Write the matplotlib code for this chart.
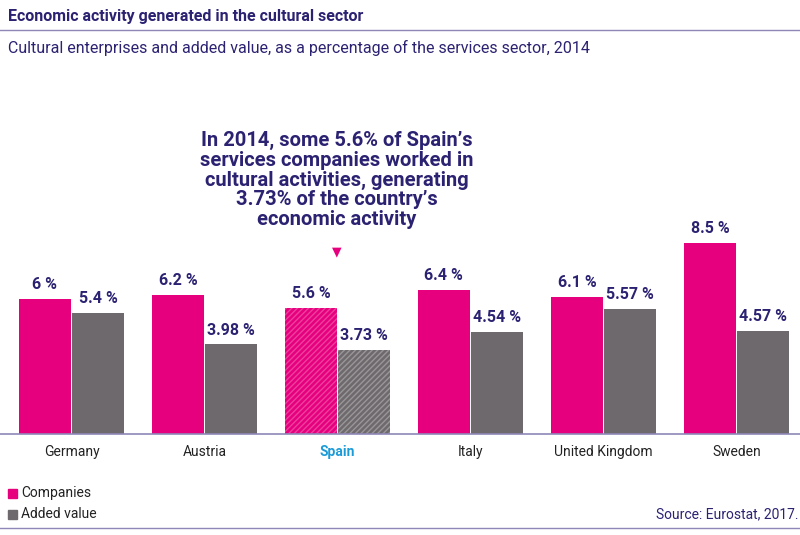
import matplotlib
matplotlib.use("Agg")
import matplotlib.pyplot as plt
import numpy as np

countries = ["Germany", "Austria", "Spain", "Italy", "United Kingdom", "Sweden"]
companies = [6.0, 6.2, 5.6, 6.4, 6.1, 8.5]
added_value = [5.4, 3.98, 3.73, 4.54, 5.57, 4.57]
comp_labels = ["6 %", "6.2 %", "5.6 %", "6.4 %", "6.1 %", "8.5 %"]
added_labels = ["5.4 %", "3.98 %", "3.73 %", "4.54 %", "5.57 %", "4.57 %"]

PINK = "#E6007E"
GRAY = "#6E696C"
NAVY = "#2B2272"
BLUE = "#1A9BD7"
LINE = "#8E88B8"

plt.rcParams['font.family'] = ['Roboto', 'DejaVu Sans']
fig = plt.figure(figsize=(8, 5.35), dpi=100)
W, H = 800, 535
ax = fig.add_axes([0, 1 - 434 / H, 1, (434 - 90) / H])
x = np.arange(len(countries))
w = 0.395
for i in x:
    hatch = '//////' if countries[i] == "Spain" else None
    ax.bar(i - 0.2, companies[i], w, color=PINK, hatch=hatch, edgecolor=(1, 1, 1, 0.25) if hatch else PINK, linewidth=0)
    ax.bar(i + 0.2, added_value[i], w, color=GRAY, hatch=hatch, edgecolor=(1, 1, 1, 0.3) if hatch else GRAY, linewidth=0)
    ax.text(i - 0.2, companies[i] + 0.3, comp_labels[i], ha='center', va='bottom', color=NAVY, fontsize=11.5, fontweight='bold')
    ax.text(i + 0.2, added_value[i] + 0.3, added_labels[i], ha='center', va='bottom', color=NAVY, fontsize=11.5, fontweight='bold')
ax.set_xlim(-71.5 / 133, (800 - 71.5) / 133)
ax.set_ylim(0, (434 - 90) / 22.5)
ax.set_xticks(x)
ax.set_xticklabels(countries, fontsize=10)
for lbl, c in zip(ax.get_xticklabels(), countries):
    if c == "Spain":
        lbl.set_color(BLUE); lbl.set_fontweight('bold')
    else:
        lbl.set_color('#222222')
ax.tick_params(axis='x', length=0, pad=8)
ax.set_yticks([])
for s in ['top', 'right', 'left']:
    ax.spines[s].set_visible(False)
ax.spines['bottom'].set_color(LINE)
ax.spines['bottom'].set_linewidth(1.2)

fig.text(8 / W, 1 - 16 / H, "Economic activity generated in the cultural sector", color=NAVY, fontsize=11.5, fontweight='bold', va='center')
fig.add_artist(plt.Line2D([0, 1], [1 - 30 / H] * 2, color=LINE, lw=1))
fig.text(8 / W, 1 - 48 / H, "Cultural enterprises and added value, as a percentage of the services sector, 2014", color=NAVY, fontsize=11.5, va='center')
fig.text(337 / W, 1 - 180 / H, "In 2014, some 5.6% of Spain’s\nservices companies worked in\ncultural activities, generating\n3.73% of the country’s\neconomic activity",
         ha='center', va='center', color=NAVY, fontsize=14.5, fontweight='bold', linespacing=1.05)
fig.text(337 / W, 1 - 252 / H, "▼", ha='center', va='center', color=PINK, fontsize=9)

fig.patches.append(plt.Rectangle((8 / W, 1 - 498 / H), 9 / W, 9 / H, color=PINK, transform=fig.transFigure))
fig.patches.append(plt.Rectangle((8 / W, 1 - 519 / H), 9 / W, 9 / H, color=GRAY, transform=fig.transFigure))
fig.text(21 / W, 1 - 493 / H, "Companies", color='#222222', fontsize=10, va='center')
fig.text(21 / W, 1 - 514 / H, "Added value", color='#222222', fontsize=10, va='center')
fig.text(798 / W, 1 - 514 / H, "Source: Eurostat, 2017.", color=NAVY, fontsize=10, va='center', ha='right')
fig.add_artist(plt.Line2D([0, 1], [1 - 528 / H] * 2, color=LINE, lw=1))

fig.savefig("out.png", dpi=100)
